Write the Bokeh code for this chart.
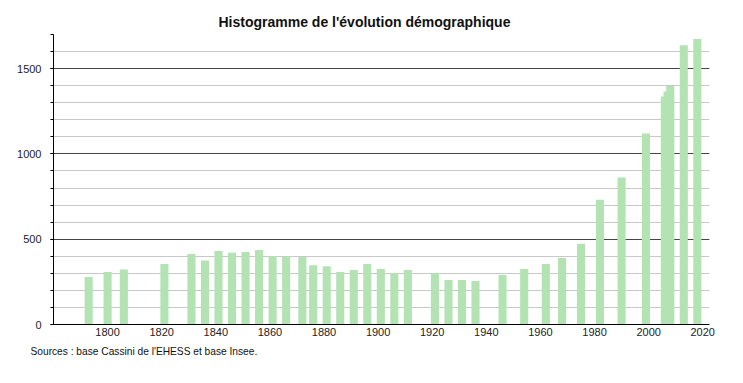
from bokeh.plotting import figure
from bokeh.models import Range1d, SingleIntervalTicker, Title, ColumnDataSource
from bokeh.embed import file_html
from bokeh.resources import INLINE

years = [1793, 1800, 1806, 1821, 1831, 1836, 1841, 1846, 1851, 1856, 1861, 1866,
         1872, 1876, 1881, 1886, 1891, 1896, 1901, 1906, 1911, 1921, 1926, 1931,
         1936, 1946, 1954, 1962, 1968, 1975, 1982, 1990, 1999, 2006, 2007, 2008,
         2013, 2018]
population = [278, 308, 322, 355, 414, 375, 431, 420, 425, 437, 400, 398,
              396, 347, 341, 308, 320, 355, 326, 300, 320, 300, 261, 261,
              255, 290, 326, 355, 390, 473, 731, 861, 1120, 1337, 1366, 1398,
              1637, 1673]
x_ticks = [1800, 1820, 1840, 1860, 1880, 1900, 1920, 1940, 1960, 1980, 2000, 2020]
title_text = "Histogramme de l'évolution démographique"
source_text = "Sources : base Cassini de l'EHESS et base Insee."

FONT = "Liberation Sans"

p = figure(frame_width=656, frame_height=290,
           x_range=Range1d(1780, 2022.5), y_range=Range1d(0, 1700),
           output_backend="svg", toolbar_location=None,
           min_border_left=53, min_border_right=18, min_border_top=34,
           min_border_bottom=44, background_fill_color="white",
           border_fill_color="white")
p.outline_line_color = None

src = ColumnDataSource(dict(x=years, y=population))
p.vbar(x="x", top="y", width=3, bottom=0, source=src,
       fill_color="#b3e3b3", line_color=None)

# grids
p.xgrid.grid_line_color = None
p.ygrid.ticker = SingleIntervalTicker(interval=500, num_minor_ticks=5)
p.ygrid.grid_line_color = "#444444"
p.ygrid.grid_line_width = 1
p.ygrid.minor_grid_line_color = "#c8c8c8"
p.ygrid.minor_grid_line_width = 1

# y axis
yax = p.yaxis[0]
yax.ticker = SingleIntervalTicker(interval=500, num_minor_ticks=5)
yax.axis_line_color = "black"
yax.major_tick_out = 3
yax.major_tick_in = 0
yax.minor_tick_out = 3
yax.minor_tick_in = 0
yax.major_tick_line_color = "black"
yax.minor_tick_line_color = "black"
yax.major_label_standoff = 9
yax.major_label_text_font = FONT
yax.major_label_text_font_size = "11px"
yax.major_label_text_color = "#222222"

# x axis
xax = p.xaxis[0]
xax.ticker = x_ticks
xax.axis_line_color = "black"
xax.major_tick_out = 0
xax.major_tick_in = 0
xax.minor_tick_out = 0
xax.minor_tick_in = 0
xax.major_label_standoff = 3
xax.major_label_text_font = FONT
xax.major_label_text_font_size = "11px"
xax.major_label_text_color = "#222222"

t = Title(text=title_text, align="left", offset=165, text_font=FONT,
          text_font_size="14px", text_font_style="bold", text_color="#111111")
p.add_layout(t, "above")

s = Title(text=source_text, align="left", offset=-23, text_font=FONT,
          text_font_size="10.2px", text_font_style="normal", text_color="#111111")
p.add_layout(s, "below")

open("out.html", "w").write(file_html(p, INLINE))
